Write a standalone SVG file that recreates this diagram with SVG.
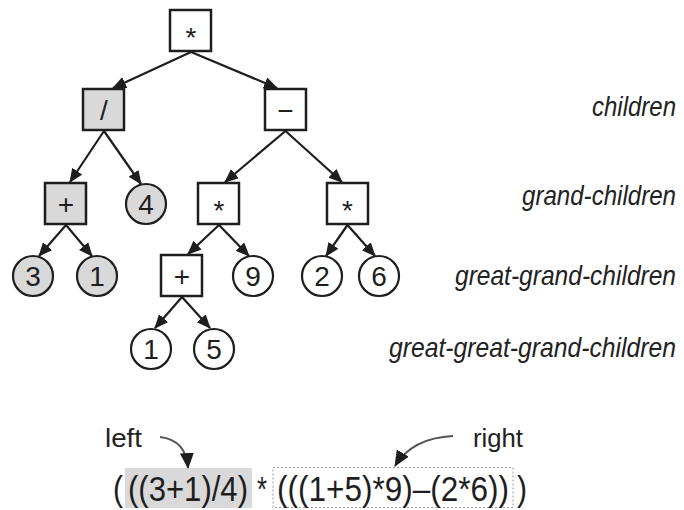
<svg xmlns="http://www.w3.org/2000/svg" width="684" height="510" viewBox="0 0 684 510">
  <defs>
    <style>
      .box { stroke: #1e1e1e; stroke-width: 2.5; }
      .leaf { stroke: #1e1e1e; stroke-width: 2.2; }
      .plain { fill: #ffffff; }
      .shade { fill: #d9d9d9; }
      .sym { font-family: "Liberation Sans", Arial, sans-serif; font-size: 28px; fill: #1e1e1e; text-anchor: middle; }
      .edge { stroke: #1e1e1e; stroke-width: 2.2; fill: none; marker-end: url(#head); }
      .level { font-family: "Liberation Sans", Arial, sans-serif; font-style: italic; font-size: 28px; fill: #222; text-anchor: end; }
      .note { font-family: "Liberation Sans", Arial, sans-serif; font-size: 26px; fill: #222; }
      .expr { font-family: "Liberation Sans", Arial, sans-serif; font-size: 35px; fill: #1e1e1e; }
      .pointer { stroke: #555; stroke-width: 1.8; fill: none; marker-end: url(#head2); }
    </style>
    <marker id="head" markerUnits="userSpaceOnUse" markerWidth="16" markerHeight="14" refX="13" refY="6" orient="auto">
      <path d="M0,0 L14,6 L0,12 z" fill="#1e1e1e"/>
    </marker>
    <marker id="head2" markerUnits="userSpaceOnUse" markerWidth="18" markerHeight="16" refX="15" refY="7" orient="auto">
      <path d="M0,0 L16,7 L0,14 z" fill="#1e1e1e"/>
    </marker>
  </defs>

  <rect width="684" height="510" fill="#ffffff"/>

  <!-- connectors -->
  <g id="edges">
    <line class="edge" x1="191" y1="52" x2="113" y2="88"/>
    <line class="edge" x1="191" y1="52" x2="277" y2="88"/>
    <line class="edge" x1="104" y1="131" x2="70" y2="182"/>
    <line class="edge" x1="104" y1="131" x2="141" y2="184"/>
    <line class="edge" x1="285.5" y1="131" x2="225" y2="182"/>
    <line class="edge" x1="285.5" y1="131" x2="342" y2="182"/>
    <line class="edge" x1="66" y1="225" x2="39" y2="256"/>
    <line class="edge" x1="66" y1="225" x2="92" y2="256"/>
    <line class="edge" x1="219" y1="225" x2="188" y2="254"/>
    <line class="edge" x1="219" y1="225" x2="249" y2="256"/>
    <line class="edge" x1="347.5" y1="225" x2="326" y2="256"/>
    <line class="edge" x1="347.5" y1="225" x2="375" y2="256"/>
    <line class="edge" x1="182" y1="297" x2="155" y2="328"/>
    <line class="edge" x1="182" y1="297" x2="210" y2="328"/>
  </g>

  <!-- operator nodes -->
  <g id="n-root">
    <rect class="box plain" x="170" y="10" width="41" height="41"/>
    <text class="sym" x="191" y="47">*</text>
  </g>
  <g id="n-div">
    <rect class="box shade" x="83" y="89" width="41" height="41"/>
    <text class="sym" x="104" y="120">/</text>
  </g>
  <g id="n-sub">
    <rect class="box plain" x="265" y="89" width="41" height="41"/>
    <text class="sym" x="285.5" y="120">−</text>
  </g>
  <g id="n-add-left">
    <rect class="box shade" x="45" y="183" width="41" height="41"/>
    <text class="sym" x="66" y="214">+</text>
  </g>
  <g id="n-mul-left">
    <rect class="box plain" x="198" y="183" width="41" height="41"/>
    <text class="sym" x="219" y="220">*</text>
  </g>
  <g id="n-mul-right">
    <rect class="box plain" x="327" y="183" width="41" height="41"/>
    <text class="sym" x="347.5" y="220">*</text>
  </g>
  <g id="n-add-right">
    <rect class="box plain" x="161" y="255" width="41" height="41"/>
    <text class="sym" x="182" y="286">+</text>
  </g>

  <!-- operand nodes -->
  <g id="n-4">
    <circle class="leaf shade" cx="146" cy="204" r="20"/>
    <text class="sym" x="146" y="214">4</text>
  </g>
  <g id="n-3">
    <circle class="leaf shade" cx="33" cy="276" r="20"/>
    <text class="sym" x="33" y="286">3</text>
  </g>
  <g id="n-1a">
    <circle class="leaf shade" cx="97" cy="276" r="20"/>
    <text class="sym" x="97" y="286">1</text>
  </g>
  <g id="n-9">
    <circle class="leaf plain" cx="253" cy="276" r="20"/>
    <text class="sym" x="253" y="286">9</text>
  </g>
  <g id="n-2">
    <circle class="leaf plain" cx="322" cy="276" r="20"/>
    <text class="sym" x="322" y="286">2</text>
  </g>
  <g id="n-6">
    <circle class="leaf plain" cx="379" cy="276" r="20"/>
    <text class="sym" x="379" y="286">6</text>
  </g>
  <g id="n-1b">
    <circle class="leaf plain" cx="151" cy="349" r="20"/>
    <text class="sym" x="151" y="359">1</text>
  </g>
  <g id="n-5">
    <circle class="leaf plain" cx="214" cy="349" r="20"/>
    <text class="sym" x="214" y="359">5</text>
  </g>

  <!-- level captions -->
  <g id="levels">
    <text class="level" x="676" y="116" textLength="84" lengthAdjust="spacingAndGlyphs">children</text>
    <text class="level" x="676" y="205" textLength="154" lengthAdjust="spacingAndGlyphs">grand-children</text>
    <text class="level" x="676" y="285" textLength="221" lengthAdjust="spacingAndGlyphs">great-grand-children</text>
    <text class="level" x="676" y="357" textLength="287" lengthAdjust="spacingAndGlyphs">great-great-grand-children</text>
  </g>

  <!-- infix expression -->
  <g id="expression">
    <rect x="125" y="468" width="127" height="40" fill="#d9d9d9"/>
    <rect x="273" y="467.5" width="240" height="40" fill="none" stroke="#9a9a9a" stroke-width="1" stroke-dasharray="2,2"/>
    <text class="expr" x="113" y="501" textLength="10" lengthAdjust="spacingAndGlyphs">(</text>
    <text class="expr" x="128" y="501" textLength="120" lengthAdjust="spacingAndGlyphs">((3+1)/4)</text>
    <text class="expr" x="257" y="501" textLength="10" lengthAdjust="spacingAndGlyphs">*</text>
    <text class="expr" x="277" y="501" textLength="232" lengthAdjust="spacingAndGlyphs">(((1+5)*9)–(2*6))</text>
    <text class="expr" x="517" y="501" textLength="10" lengthAdjust="spacingAndGlyphs">)</text>
  </g>

  <g id="callout-left">
    <text class="note" x="105" y="447" textLength="37" lengthAdjust="spacingAndGlyphs">left</text>
    <path class="pointer" d="M160,437 Q186,440 188,468"/>
  </g>
  <g id="callout-right">
    <text class="note" x="473" y="447" textLength="50" lengthAdjust="spacingAndGlyphs">right</text>
    <path class="pointer" d="M453,436 Q412,438 395,466"/>
  </g>
</svg>
